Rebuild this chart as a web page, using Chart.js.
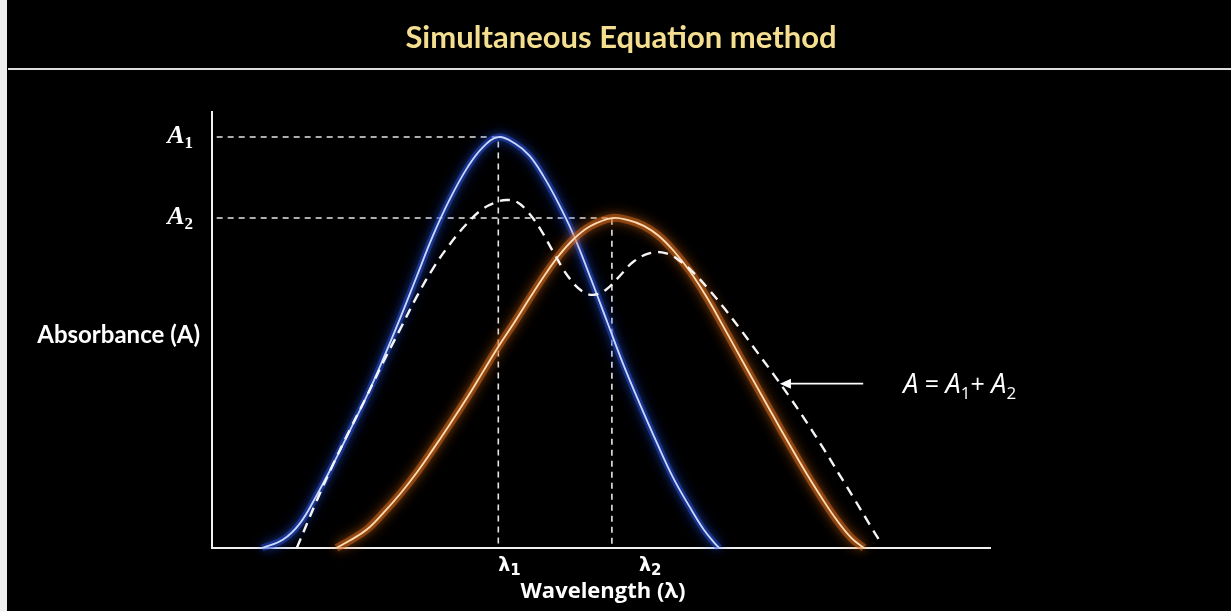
<!DOCTYPE html>
<html>
<head>
<meta charset="utf-8">
<script src="https://cdn.jsdelivr.net/npm/chart.js@4"></script>
<style>
  html, body { margin: 0; padding: 0; background: #000; }
  canvas { display: block; }
</style>
</head>
<body>
<canvas id="chart" width="1231" height="611"></canvas>
<script>
const titleText = 'Simultaneous Equation method';
const xLabel = 'Wavelength (λ)';
const yLabel = 'Absorbance (A)';

// peak positions (arbitrary wavelength units 0-100, absorbance 0-1)
const lambdas = [36.8, 51.4];
const peaks = [1.0, 0.803];

// component 1 (blue)
const comp1X = [6.4, 9.1, 11.3, 13.5, 15.6, 17.7, 19.9, 22.0, 24.2, 26.3, 28.4, 30.6, 32.8, 34.8, 36.8,
                38.9, 40.8, 42.6, 44.5, 46.4, 48.6, 50.8, 52.8, 55.0, 57.2, 59.3, 61.4, 63.2, 64.6, 65.2];
const comp1Y = [0, 0.02, 0.06, 0.13, 0.205, 0.285, 0.37, 0.46, 0.56, 0.66, 0.76, 0.85, 0.925, 0.975, 1.0,
                0.985, 0.955, 0.905, 0.84, 0.765, 0.66, 0.55, 0.45, 0.35, 0.255, 0.17, 0.10, 0.045, 0.012, 0];

// component 2 (orange)
const comp2X = [16.0, 17.7, 19.9, 22.0, 24.2, 26.3, 28.4, 30.6, 32.8, 34.8, 36.8, 38.9, 40.9, 42.8, 44.6, 46.5, 48.6, 51.4,
                53.5, 55.5, 57.4, 59.3, 61.4, 63.6, 65.7, 67.8, 69.9, 72.0, 74.1, 76.2, 78.3, 80.3, 82.2, 83.8];
const comp2Y = [0, 0.018, 0.045, 0.085, 0.132, 0.183, 0.24, 0.302, 0.366, 0.428, 0.49, 0.55, 0.61, 0.665, 0.712, 0.752, 0.783, 0.803,
                0.798, 0.784, 0.76, 0.724, 0.674, 0.61, 0.54, 0.468, 0.397, 0.326, 0.256, 0.188, 0.124, 0.068, 0.024, 0];

// mixture A = A1 + A2 (dashed)
const mixX = [10.9, 13.5, 15.6, 17.7, 19.9, 22.0, 24.2, 26.3, 28.4, 30.6, 32.8, 34.8, 36.8, 37.9, 39.2, 40.6, 42.2, 44.0, 45.8,
              47.5, 49.0, 50.6, 52.3, 54.2, 56.4, 58.4, 60.2, 62.0, 63.9, 65.9, 68.0, 70.1, 72.2, 74.3, 76.4, 78.5, 80.6, 82.7, 84.5, 85.9];
const mixY = [0, 0.117, 0.205, 0.287, 0.37, 0.452, 0.533, 0.611, 0.68, 0.74, 0.79, 0.825, 0.843, 0.847, 0.842, 0.818, 0.776, 0.716, 0.66,
              0.626, 0.616, 0.628, 0.66, 0.697, 0.718, 0.717, 0.698, 0.668, 0.628, 0.582, 0.53, 0.476, 0.422, 0.366, 0.307, 0.245, 0.18, 0.115, 0.058, 0.015];

// arrow pointing at the mixture curve: [tail x, tip x], at absorbance y
const arrowX = [83.7, 73.0];
const arrowY = 0.40;

const toPts = (xs, ys) => xs.map((x, i) => ({ x: x, y: ys[i] }));

const guide1 = [{ x: 0.6, y: peaks[0] }, { x: lambdas[0], y: peaks[0] }, { x: lambdas[0], y: 0 }];
const guide2 = [{ x: 0.6, y: peaks[1] }, { x: lambdas[1], y: peaks[1] }, { x: lambdas[1], y: 0 }];

function drawRich(ctx, parts, x, y, align) {
    let w = 0;
    parts.forEach(p => { ctx.font = p.font; w += ctx.measureText(p.t).width; });
    let cx = align === 'right' ? x - w : (align === 'center' ? x - w / 2 : x);
    ctx.textAlign = 'left';
    ctx.textBaseline = 'alphabetic';
    parts.forEach(p => {
        ctx.font = p.font;
        ctx.fillText(p.t, cx, y + (p.dy || 0));
        cx += ctx.measureText(p.t).width;
    });
}

const glowPlugin = {
    id: 'glow',
    beforeDatasetDraw(chart, args) {
        const ds = chart.data.datasets[args.index];
        if (ds.glow) {
            chart.ctx.save();
            chart.ctx.shadowColor = ds.glow;
            chart.ctx.shadowBlur = ds.glowBlur || 10;
        }
    },
    afterDatasetDraw(chart, args) {
        if (chart.data.datasets[args.index].glow) chart.ctx.restore();
    }
};

const decor = {
    id: 'decor',
    beforeDraw(chart) {
        const ctx = chart.ctx;
        ctx.save();
        ctx.fillStyle = '#000';
        ctx.fillRect(0, 0, chart.width, chart.height);
        ctx.fillStyle = '#eeeeee';
        ctx.fillRect(0, 0, 7, chart.height);
        // title + rule
        ctx.fillStyle = '#f4de90';
        ctx.font = 'bold 31px Lato, "Open Sans", sans-serif';
        ctx.textAlign = 'center';
        ctx.textBaseline = 'alphabetic';
        ctx.fillText(titleText, 621, 48);
        ctx.strokeStyle = '#dcdcdc';
        ctx.lineWidth = 2;
        ctx.beginPath();
        ctx.moveTo(8, 69);
        ctx.lineTo(chart.width, 69);
        ctx.stroke();
        ctx.restore();
    },
    afterDraw(chart) {
        const ctx = chart.ctx;
        const xs = chart.scales.x, ys = chart.scales.y;
        ctx.save();
        ctx.fillStyle = '#ffffff';

        // axis titles
        ctx.font = 'bold 24px Lato, "DejaVu Sans", sans-serif';
        ctx.textAlign = 'right';
        ctx.textBaseline = 'alphabetic';
        ctx.fillText(yLabel, 200, 343);
        ctx.textAlign = 'center';
        ctx.font = 'bold 22px "Open Sans", "DejaVu Sans", sans-serif';
        ctx.fillText(xLabel, 603, 598);

        // A1 / A2 labels on the y axis
        const serif = 'bold italic 26px "Liberation Serif", "DejaVu Serif", serif';
        const serifSub = 'bold 17px "Liberation Serif", "DejaVu Serif", serif';
        peaks.forEach((p, i) => {
            drawRich(ctx, [{ t: 'A', font: serif }, { t: String(i + 1), font: serifSub, dy: 5 }],
                193, ys.getPixelForValue(p) + 6, 'right');
        });

        // lambda labels under the x axis
        const lamFont = 'bold 19px "DejaVu Sans", sans-serif';
        const lamSub = 'bold 15px "DejaVu Sans", sans-serif';
        const lamShift = [0, 27];
        lambdas.forEach((l, i) => {
            drawRich(ctx, [{ t: 'λ', font: lamFont }, { t: String(i + 1), font: lamSub, dy: 4 }],
                xs.getPixelForValue(l) + lamShift[i], 571, 'left');
        });

        // arrow + equation
        const ay = ys.getPixelForValue(arrowY);
        const tail = xs.getPixelForValue(arrowX[0]);
        const tip = xs.getPixelForValue(arrowX[1]);
        ctx.strokeStyle = '#ffffff';
        ctx.lineWidth = 1.6;
        ctx.beginPath();
        ctx.moveTo(tail, ay);
        ctx.lineTo(tip + 8, ay);
        ctx.stroke();
        ctx.beginPath();
        ctx.moveTo(tip, ay);
        ctx.lineTo(tip + 11, ay - 5);
        ctx.lineTo(tip + 11, ay + 5);
        ctx.closePath();
        ctx.fill();

        const it = 'italic 27px "Open Sans", "DejaVu Sans", sans-serif';
        const up = '25px "Open Sans", "DejaVu Sans", sans-serif';
        const sub = '17px "Open Sans", "DejaVu Sans", sans-serif';
        drawRich(ctx, [
            { t: 'A', font: it }, { t: ' = ', font: up }, { t: 'A', font: it }, { t: '1', font: sub, dy: 6 },
            { t: '+ ', font: up }, { t: 'A', font: it }, { t: '2', font: sub, dy: 6 }
        ], tail + 40, ay + 9, 'left');
        ctx.restore();
    }
};

new Chart(document.getElementById('chart'), {
    type: 'line',
    data: {
        datasets: [
            {
                label: 'A = A1 + A2',
                data: toPts(mixX, mixY),
                borderColor: '#f4f4f4',
                borderWidth: 2.4,
                borderDash: [10, 7],
                order: 0
            },
            {
                label: 'A2',
                data: toPts(comp2X, comp2Y),
                borderColor: '#ffdcb4',
                borderWidth: 1.8,
                glow: '#ff8a20',
                glowBlur: 8,
                order: 1
            },
            {
                label: 'A2 halo',
                data: toPts(comp2X, comp2Y),
                borderColor: 'rgba(214, 104, 30, 0.5)',
                borderWidth: 8,
                glow: 'rgba(200, 90, 20, 0.9)',
                glowBlur: 14,
                order: 1.5
            },
            {
                label: 'A1',
                data: toPts(comp1X, comp1Y),
                borderColor: '#cad8ff',
                borderWidth: 1.8,
                glow: '#3a6cff',
                glowBlur: 8,
                order: 2
            },
            {
                label: 'A1 halo',
                data: toPts(comp1X, comp1Y),
                borderColor: 'rgba(40, 80, 220, 0.45)',
                borderWidth: 7,
                glow: 'rgba(30, 70, 230, 0.9)',
                glowBlur: 14,
                order: 2.5
            },
            {
                label: 'guide A1',
                data: guide1,
                borderColor: '#e6e6e6',
                borderWidth: 1.6,
                borderDash: [6, 5],
                tension: 0,
                order: 3
            },
            {
                label: 'guide A2',
                data: guide2,
                borderColor: '#e6e6e6',
                borderWidth: 1.6,
                borderDash: [6, 5],
                tension: 0,
                order: 3
            }
        ]
    },
    options: {
        responsive: false,
        animation: false,
        events: [],
        layout: { padding: { left: 212, right: 241, top: 112, bottom: 63 } },
        elements: {
            point: { radius: 0 },
            line: { tension: 0.4, fill: false }
        },
        datasets: {
            line: { clip: false }
        },
        plugins: {
            legend: { display: false },
            title: { display: false },
            tooltip: { enabled: false }
        },
        scales: {
            x: {
                type: 'linear',
                min: 0,
                max: 100,
                ticks: { display: false },
                grid: { display: false, drawTicks: false },
                border: { display: true, color: '#f0f0f0', width: 2 }
            },
            y: {
                type: 'linear',
                min: 0,
                max: 1.061,
                ticks: { display: false },
                grid: { display: false, drawTicks: false },
                border: { display: true, color: '#f0f0f0', width: 2 }
            }
        }
    },
    plugins: [glowPlugin, decor]
});
</script>
</body>
</html>
